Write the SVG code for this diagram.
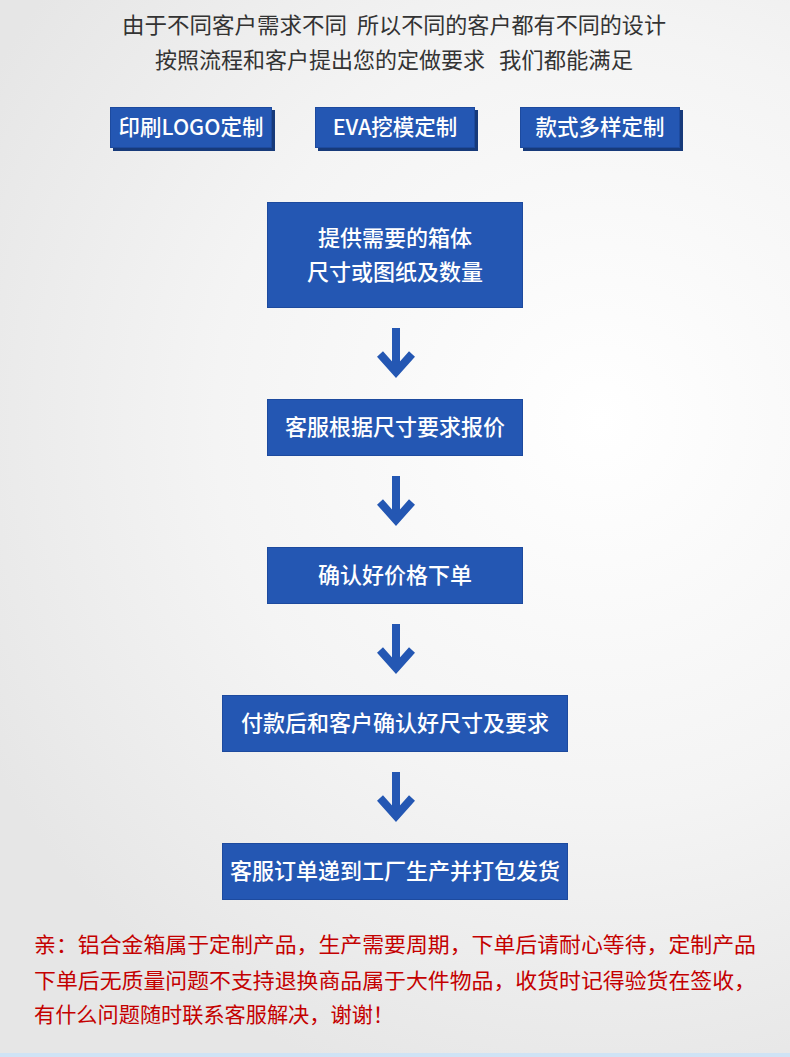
<svg xmlns="http://www.w3.org/2000/svg" width="790" height="1057" viewBox="0 0 790 1057">
<defs>
<radialGradient id="bg" cx="600" cy="420" r="700" gradientUnits="userSpaceOnUse">
<stop offset="0" stop-color="#ffffff"/>
<stop offset="0.55" stop-color="#f4f4f4"/>
<stop offset="1" stop-color="#e6e6e6"/>
</radialGradient>
<g id="arrow">
<path d="M0,-50 V-8" stroke="#2457b3" stroke-width="8" fill="none"/>
<path d="M-16,-24 L0,-6 L16,-24" stroke="#2457b3" stroke-width="8" fill="none" stroke-linejoin="miter" stroke-miterlimit="10"/>
</g>
</defs>
<style>
.top{font-family:"Noto Sans CJK SC","Noto Sans",sans-serif;font-size:22px;fill:#333}
.btn{fill:#2457b3;stroke:#1d4a9e;stroke-width:1}
.sh{fill:#173a7a}
.bt{font-family:"Noto Sans CJK SC","Noto Sans",sans-serif;font-size:21.5px;font-weight:500;fill:#fff;text-anchor:middle}
.box{fill:#2457b3;stroke:#1d4a9e;stroke-width:1}
.bx{font-family:"Noto Sans CJK SC","Noto Sans",sans-serif;font-size:22px;font-weight:500;fill:#fff;text-anchor:middle}
.red{font-family:"Noto Sans CJK SC","Noto Sans",sans-serif;font-size:21px;fill:#c40000}
</style>
<rect width="790" height="1057" fill="url(#bg)"/>
<rect x="0" y="1053" width="790" height="4" fill="#cfe3f5"/>
<g id="intro">
<text class="top" x="122" y="33" textLength="225" lengthAdjust="spacingAndGlyphs">由于不同客户需求不同</text>
<text class="top" x="357" y="33" textLength="309" lengthAdjust="spacingAndGlyphs">所以不同的客户都有不同的设计</text>
<text class="top" x="155" y="68" textLength="330" lengthAdjust="spacingAndGlyphs">按照流程和客户提出您的定做要求</text>
<text class="top" x="499" y="68" textLength="134" lengthAdjust="spacingAndGlyphs">我们都能满足</text>
</g>
<g id="btn-logo">
<rect class="sh" x="113" y="110" width="162" height="41"/>
<rect class="btn" x="110.5" y="107.5" width="161" height="40"/>
<text class="bt" x="191" y="135">印刷LOGO定制</text>
</g>
<g id="btn-eva">
<rect class="sh" x="318" y="110" width="160" height="41"/>
<rect class="btn" x="315.5" y="107.5" width="159" height="40"/>
<text class="bt" x="395" y="135">EVA挖模定制</text>
</g>
<g id="btn-style">
<rect class="sh" x="523" y="110" width="160" height="41"/>
<rect class="btn" x="520.5" y="107.5" width="159" height="40"/>
<text class="bt" x="600" y="135">款式多样定制</text>
</g>
<g id="step1">
<rect class="box" x="267.5" y="202.5" width="255" height="105"/>
<text class="bx" x="395" y="246">提供需要的箱体</text>
<text class="bx" x="395" y="280">尺寸或图纸及数量</text>
</g>
<g id="step2">
<rect class="box" x="267.5" y="399.5" width="255" height="56"/>
<text class="bx" x="395" y="435">客服根据尺寸要求报价</text>
</g>
<g id="step3">
<rect class="box" x="267.5" y="547.5" width="255" height="56"/>
<text class="bx" x="395" y="583">确认好价格下单</text>
</g>
<g id="step4">
<rect class="box" x="222.5" y="695.5" width="345" height="56"/>
<text class="bx" x="395" y="731">付款后和客户确认好尺寸及要求</text>
</g>
<g id="step5">
<rect class="box" x="222.5" y="843.5" width="345" height="56"/>
<text class="bx" x="395" y="879">客服订单递到工厂生产并打包发货</text>
</g>
<g id="connectors">
<use href="#arrow" x="396" y="378"/>
<use href="#arrow" x="396" y="526"/>
<use href="#arrow" x="396" y="674"/>
<use href="#arrow" x="396" y="822"/>
</g>
<g id="note">
<text class="red" x="34" y="952" textLength="722" lengthAdjust="spacingAndGlyphs">亲：铝合金箱属于定制产品，生产需要周期，下单后请耐心等待，定制产品</text>
<text class="red" x="34" y="988" textLength="722" lengthAdjust="spacingAndGlyphs">下单后无质量问题不支持退换商品属于大件物品，收货时记得验货在签收，</text>
<text class="red" x="34" y="1022" textLength="360" lengthAdjust="spacingAndGlyphs">有什么问题随时联系客服解决，谢谢！</text>
</g>
</svg>
